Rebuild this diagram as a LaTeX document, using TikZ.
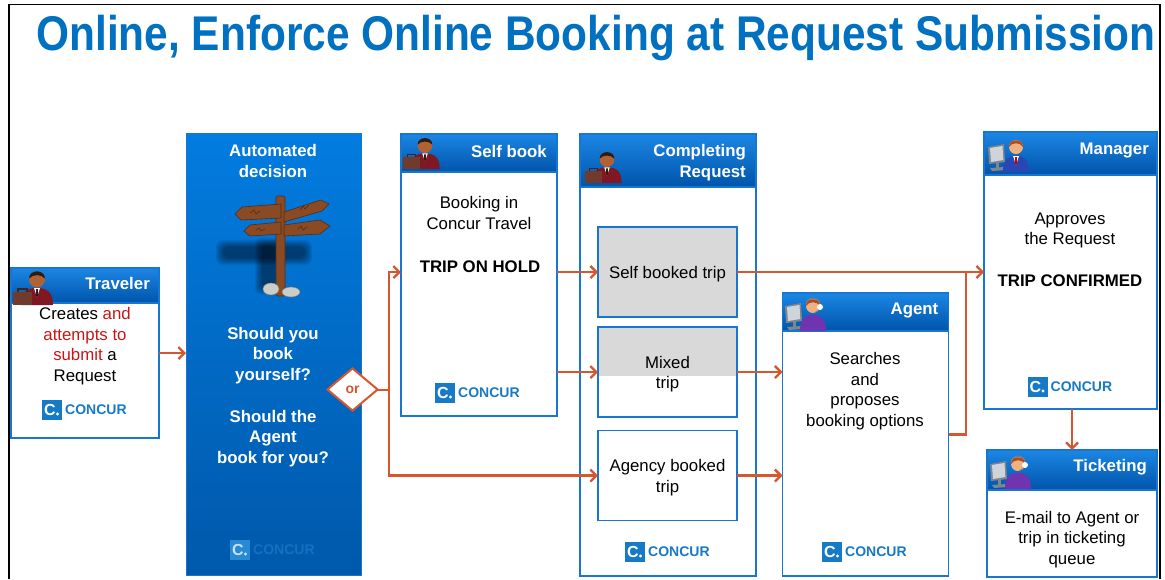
\documentclass[tikz,border=0pt]{standalone}
\usepackage{fontspec}
\setmainfont{Liberation Sans}
\usetikzlibrary{arrows.meta,shapes.geometric}

\definecolor{titleblue}{RGB}{0,112,192}
\definecolor{edgeblue}{RGB}{22,118,208}
\definecolor{headtop}{RGB}{28,134,228}
\definecolor{headbot}{RGB}{0,84,170}
\definecolor{decitop}{RGB}{2,124,224}
\definecolor{decibot}{RGB}{0,88,170}
\definecolor{arroworange}{RGB}{214,86,46}
\definecolor{tripgray}{RGB}{217,217,217}
\definecolor{alert}{RGB}{200,22,22}
\definecolor{logoblue}{RGB}{22,122,198}
\definecolor{suitred}{RGB}{128,24,36}
\definecolor{skindark}{RGB}{176,98,52}
\definecolor{skinlight}{RGB}{240,176,128}
\definecolor{hairdark}{RGB}{45,28,20}
\definecolor{hairred}{RGB}{176,76,28}
\definecolor{casebrown}{RGB}{112,58,44}
\definecolor{suitpurple}{RGB}{112,52,176}
\definecolor{suitblue}{RGB}{40,70,180}
\definecolor{screengray}{RGB}{128,134,140}
\definecolor{screenlight}{RGB}{206,212,218}
\definecolor{wood}{RGB}{138,74,36}
\definecolor{wooddark}{RGB}{84,44,20}
\definecolor{rock}{RGB}{205,205,200}

\colorlet{logosq}{logoblue}
\colorlet{logoc}{white}
\colorlet{logotx}{logoblue}

\newcommand\panelfont{\fontsize{16.8}{20.7}\selectfont}

\tikzset{
  panel/.style={draw=edgeblue, line width=1.6pt, fill=white, outer sep=0pt, inner sep=0pt},
  head/.style={draw=edgeblue, line width=1.6pt, top color=headtop, bottom color=headbot,
    outer sep=0pt, inner sep=0pt, anchor=north},
  decision/.style={draw=edgeblue, line width=1pt, top color=decitop, bottom color=decibot,
    outer sep=0pt, inner sep=0pt},
  headtext/.style={text=white, font=\panelfont\bfseries, anchor=east, inner sep=0pt, align=right},
  body/.style={font=\panelfont, align=center, inner sep=0pt},
  trip/.style={panel, minimum width=139pt, minimum height=90pt},
  choice/.style={diamond, draw=arroworange, line width=2pt, fill=white, minimum width=51pt,
    minimum height=43pt, inner sep=0pt, text=arroworange, font=\fontsize{14}{14}\bfseries\selectfont},
  link/.style={draw=arroworange, line width=2.3pt, -{Straight Barb[length=6pt,width=12pt]}},
  plain link/.style={draw=arroworange, line width=2.3pt},
  % logo: square with C. and the word
  concur logo/.pic={
    \node[fill=logosq, minimum size=20pt, inner sep=0pt] (-sq) at (-33,0) {};
    \node[text=logoc, font=\fontsize{16}{16}\bfseries\selectfont, inner sep=0pt] at (-35,0) {C};
    \fill[logoc] (-27.5,4) circle (1.7pt);
    \node[text=logotx, font=\fontsize{14}{14}\bfseries\selectfont, anchor=west, inner sep=0pt] (-tx) at (-20,0) {CONCUR};
  },
  traveler icon/.pic={
    \fill[suitred] (9,37) .. controls (9,24) and (15,20) .. (25,20) .. controls (35,20) and (41,24) .. (41,37) -- cycle;
    \fill[white] (22,20) -- (28,20) -- (25,29) -- cycle;
    \fill[hairdark] (24,21) -- (26,21) -- (25.8,28) -- (25,29) -- (24.2,28) -- cycle;
    \fill[skindark] (25,11.5) circle (8pt);
    \fill[hairdark] (17,10.5) .. controls (17,1) and (33,1) .. (33,10.5) .. controls (29,6) and (21,6) .. (17,10.5) -- cycle;
    \fill[casebrown] (1,24) rectangle (20,37);
    \draw[casebrown!60!black, line width=1.2pt] (6,24) -- (6,21) -- (15,21) -- (15,24);
  },
  monitor/.pic={
    \fill[screengray] (0,12) -- (16,9) -- (17,27) -- (1,29) -- cycle;
    \fill[screenlight] (2,13) -- (14.5,11) -- (15.3,25) -- (3,27) -- cycle;
    \fill[screengray] (8,28) rectangle (11,33);
    \fill[screengray] (2,33) -- (16,32) -- (18,35) -- (4,36) -- cycle;
  },
  agent icon/.pic={
    \pic {monitor};
    \fill[suitpurple] (15,37) .. controls (15,25) and (20,21) .. (28,21) .. controls (36,21) and (41,25) .. (41,37) -- cycle;
    \fill[skinlight] (28,12) circle (7pt);
    \fill[hairred] (21,12) .. controls (21,3) and (35,3) .. (35,12) .. controls (32,7) and (24,7) .. (21,12) -- cycle;
    \draw[gray, line width=.8pt] (21,10) .. controls (22,2) and (34,2) .. (35,10);
    \fill[white] (35,13) circle (3pt);
    \draw[gray, line width=.8pt] (34,16) -- (29,19);
  },
  manager icon/.pic={
    \pic {monitor};
    \fill[suitblue] (15,37) .. controls (15,25) and (20,21) .. (28,21) .. controls (36,21) and (41,25) .. (41,37) -- cycle;
    \fill[white] (25,21) -- (31,21) -- (28,30) -- cycle;
    \fill[red!80!black] (27,22) -- (29,22) -- (28.8,29) -- (28,30) -- (27.2,29) -- cycle;
    \fill[skinlight] (28,12) circle (7pt);
    \fill[hairred] (21,12) .. controls (21,3) and (35,3) .. (35,12) .. controls (32,7) and (24,7) .. (21,12) -- cycle;
  },
}

\begin{document}
\begin{tikzpicture}[x=1pt, y=-1pt]
\useasboundingbox (0,0) rectangle (1165,579);
\fill[white] (0,0) rectangle (1165,579);
\draw[black, line width=1.3pt] (9,579) -- (9,4.5) -- (1160,4.5) -- (1160,579);

\node[anchor=base, text=titleblue, font=\fontsize{42.4}{50}\bfseries\selectfont, inner sep=0pt] (title)
  at (596,50) {\scalebox{1}[1.15]{Online, Enforce Online Booking at Request Submission}};

% traveler
\node[panel, minimum width=148pt, minimum height=170pt] (trav) at (85,353) {};
\node[head, minimum width=148pt, minimum height=35pt] (travhead) at (trav.north) {};
\pic at (12,268) {traveler icon};
\node[headtext, xshift=-9pt, yshift=2pt] at (travhead.east) {Traveler};
\node[body] (travtext) at (85,346) {Creates \textcolor{alert}{and}\\ \textcolor{alert}{attempts to}\\ \textcolor{alert}{submit} a\\ Request};
\pic at (85,410) {concur logo};

% automated decision
\node[decision, minimum width=175pt, minimum height=442pt] (auto) at (273.5,354) {};
\node[body, text=white, font=\panelfont\bfseries] at (273,161) {Automated\\decision};
\begin{scope}
  % signpost with its shadow
  \foreach \g in {0,1,...,7} {
    \fill[black, opacity=.07, rounded corners=7pt] (216+\g,240+\g) rectangle (312-\g,265-\g);
    \fill[black, opacity=.07, rounded corners=5pt] (255+\g,238+\g) rectangle (281-\g,294-\g);
  }
  \fill[wood, draw=wooddark, line width=.6pt, rounded corners=1.5pt] (276,196) rectangle (285,296);
  \fill[wood, draw=wooddark, line width=.6pt] (281,204) -- (242,207) -- (235,214) -- (241,220) -- (281,218) -- cycle;
  \fill[wood, draw=wooddark, line width=.6pt] (281,222) -- (250,225) -- (244,231) -- (250,236) -- (281,234) -- cycle;
  \fill[wood, draw=wooddark, line width=.6pt] (284,212) -- (321,200) -- (329,204) -- (322,211) -- (284,222) -- cycle;
  \fill[wood, draw=wooddark, line width=.6pt] (284,225) -- (320,220) -- (330,226) -- (320,234) -- (284,236) -- cycle;
  \draw[wooddark, line width=.6pt] (250,213) -- (254,210) -- (256,214) -- (260,211)
    (256,230) -- (259,228) -- (261,231) -- (265,229)
    (300,210) -- (303,206) -- (305,209) -- (309,205)
    (298,229) -- (301,226) -- (303,230) -- (307,227);
  \fill[rock, draw=gray, line width=.5pt] (271,289) ellipse (8pt and 6pt);
  \fill[rock, draw=gray, line width=.5pt] (291,292) ellipse (9pt and 5pt);
\end{scope}
\node[body, text=white, font=\panelfont\bfseries] at (273,397) {Should you\\book\\yourself?\\[20.7pt]Should the\\Agent\\book for you?};
\begin{scope}
  \definecolor{logosq}{RGB}{40,138,210}
  \definecolor{logoc}{RGB}{200,225,245}
  \definecolor{logotx}{RGB}{22,112,192}
  \pic at (273,550) {concur logo};
\end{scope}

% self book
\node[panel, minimum width=156pt, minimum height=282pt] (self) at (479,275) {};
\node[head, minimum width=156pt, minimum height=38pt] (selfhead) at (self.north) {};
\pic[scale=.92] at (402,135) {traveler icon};
\node[headtext, xshift=-10pt, yshift=2pt] at (selfhead.east) {Self book};
\node[body] at (479,213) {Booking in\\Concur Travel};
\node[body, font=\panelfont\bfseries] at (480,267) {TRIP ON HOLD};
\pic at (478,393) {concur logo};

% completing request
\node[panel, minimum width=176pt, minimum height=442pt] (comp) at (668,355) {};
\node[head, minimum width=176pt, minimum height=53pt] (comphead) at (comp.north) {};
\pic[scale=.92] at (584,149) {traveler icon};
\node[headtext, xshift=-10pt, yshift=-2pt] at (comphead.east) {Completing\\Request};
\node[trip, fill=tripgray] (sbt) at (667.5,272) {};
\node[trip, path picture={\fill[tripgray] (path picture bounding box.north west) rectangle ([yshift=-4pt]path picture bounding box.east);}]
  (mix) at (667.5,372) {};
\node[trip] (agb) at (667.5,475.5) {};
\node[body, yshift=-2pt] at (sbt) {Self booked trip};
\node[body, yshift=-2pt] at (mix) {Mixed\\trip};
\node[body, yshift=-2pt] at (agb) {Agency booked\\trip};
\pic at (668,552) {concur logo};

% agent
\node[panel, minimum width=166pt, minimum height=283pt] (agent) at (865.5,434.5) {};
\node[head, minimum width=166pt, minimum height=38pt] (agenthead) at (agent.north) {};
\pic at (785,294) {agent icon};
\node[headtext, xshift=-10pt, yshift=2pt] at (agenthead.east) {Agent};
\node[body] at (865,391) {Searches\\and\\proposes\\booking options};
\pic at (865,552) {concur logo};

% manager
\node[panel, minimum width=173pt, minimum height=277pt] (mgr) at (1070.5,270.5) {};
\node[head, minimum width=173pt, minimum height=43pt] (mgrhead) at (mgr.north) {};
\pic at (988,135) {manager icon};
\node[headtext, xshift=-8pt, yshift=3pt] at (mgrhead.east) {Manager};
\node[body] at (1070,230.5) {Approves\\the Request};
\node[body, font=\panelfont\bfseries] at (1070,281) {TRIP CONFIRMED};
\pic at (1070.5,387) {concur logo};

% ticketing
\node[panel, minimum width=170pt, minimum height=127pt] (tick) at (1072,513.5) {};
\node[head, minimum width=170pt, minimum height=40pt] (tickhead) at (tick.north) {};
\pic at (990,452) {agent icon};
\node[headtext, xshift=-10pt, yshift=3pt] at (tickhead.east) {Ticketing};
\node[body] at (1072,539.5) {E-mail to Agent or\\trip in ticketing\\queue};

% flow
\draw[link] (trav.east) -- (trav.east -| auto.west);
\coordinate (fork) at (389,390);
\coordinate (merge) at (966,272);
\draw[plain link] (352,390) -- (fork);
\draw[link] (fork) |- (self.west |- sbt.west);
\draw[link] (fork) |- (agb.west);
\draw[link] (self.east |- sbt.west) -- (sbt.west);
\draw[link] (self.east |- mix.west) -- (mix.west);
\draw[link] (sbt.east) -- (sbt.east -| mgr.west);
\draw[link] (mix.east) -- (mix.east -| agent.west);
\draw[link] (agb.east) -- (agb.east -| agent.west);
\draw[plain link] (agent.east) -| (merge);
\draw[link] (mgr.south -| tick.north) -- (tick.north);
\node[choice] (or) at (352.5,389.5) {or};
\end{tikzpicture}
\end{document}
